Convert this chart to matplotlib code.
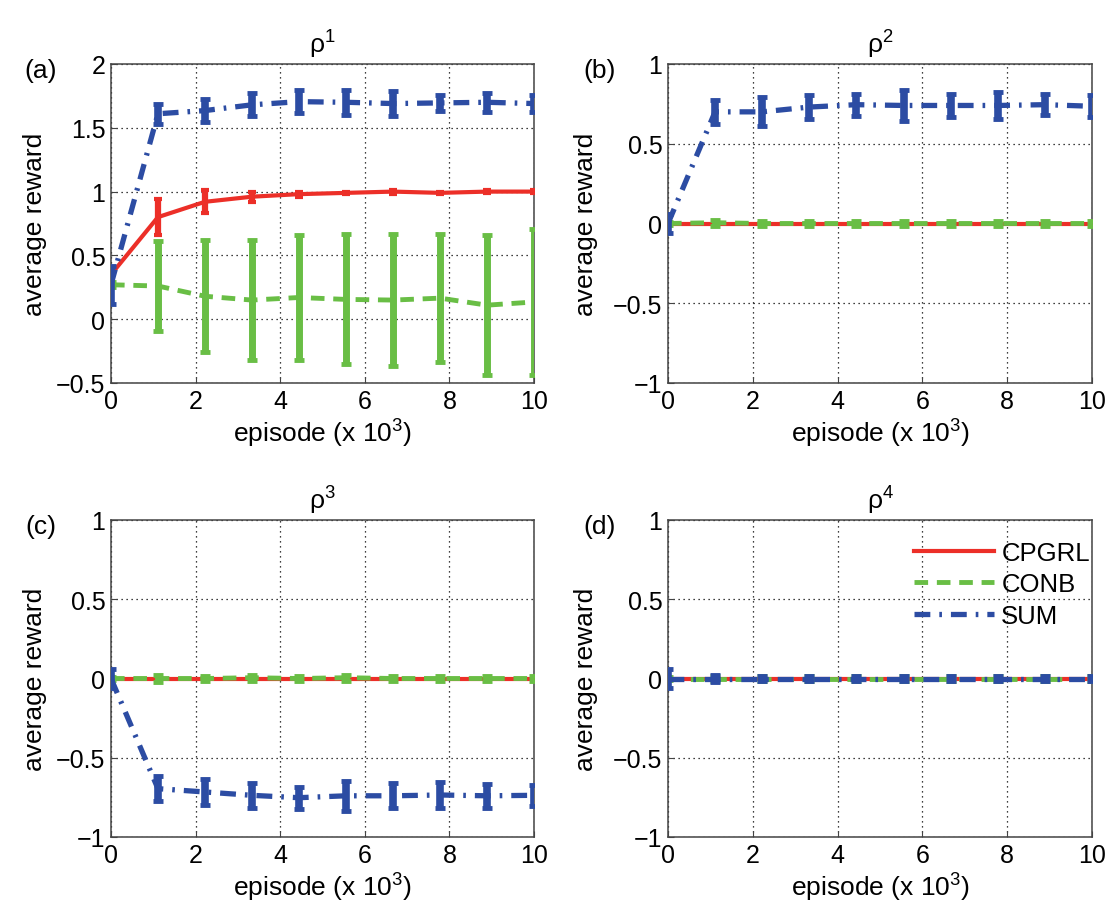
#!/usr/bin/env python3

import numpy as np
import matplotlib
matplotlib.use("Agg")
import matplotlib.pyplot as plt

plt.rcParams["font.family"] = ["Liberation Sans", "DejaVu Sans"]
plt.rcParams["mathtext.default"] = "regular"

# episode (x 10^3)
episodes = [0, 1.11, 2.22, 3.33, 4.44, 5.56, 6.67, 7.78, 8.89, 10]

# (a) rho^1
cpgrl_a = [0.35, 0.80, 0.92, 0.96, 0.98, 0.99, 1.00, 0.99, 1.00, 1.00]
cpgrl_a_err = [0.03, 0.14, 0.09, 0.04, 0.02, 0.01, 0.015, 0.01, 0.01, 0.01]
conb_a = [0.27, 0.26, 0.18, 0.15, 0.17, 0.155, 0.15, 0.165, 0.11, 0.135]
conb_a_err = [0.02, 0.35, 0.44, 0.47, 0.49, 0.51, 0.52, 0.50, 0.55, 0.575]
sum_a = [0.27, 1.61, 1.635, 1.68, 1.705, 1.70, 1.69, 1.695, 1.70, 1.69]
sum_a_err = [0.15, 0.08, 0.09, 0.09, 0.09, 0.10, 0.10, 0.065, 0.075, 0.07]

# (b) rho^2
cpgrl_b = [0, 0, 0, 0, 0, 0, 0, 0, 0, 0]
cpgrl_b_err = [0.01, 0.01, 0.01, 0.01, 0.01, 0.01, 0.01, 0.01, 0.01, 0.01]
conb_b = [0, 0.005, 0, 0, 0, 0, 0, 0, 0, 0]
conb_b_err = [0.01, 0.02, 0.015, 0.015, 0.015, 0.015, 0.015, 0.015, 0.015, 0.015]
sum_b = [0.0, 0.70, 0.70, 0.73, 0.745, 0.74, 0.74, 0.74, 0.745, 0.735]
sum_b_err = [0.06, 0.075, 0.09, 0.075, 0.07, 0.095, 0.075, 0.085, 0.065, 0.07]

# (c) rho^3
cpgrl_c = [0, 0, 0, 0, 0, 0, 0, 0, 0, 0]
cpgrl_c_err = [0.01, 0.01, 0.01, 0.01, 0.01, 0.01, 0.01, 0.01, 0.01, 0.01]
conb_c = [0, 0, 0, 0.005, 0, 0.005, 0, 0, 0, 0]
conb_c_err = [0.01, 0.02, 0.015, 0.02, 0.015, 0.02, 0.015, 0.015, 0.015, 0.015]
sum_c = [0.0, -0.695, -0.716, -0.737, -0.752, -0.74, -0.74, -0.735, -0.74, -0.737]
sum_c_err = [0.06, 0.08, 0.085, 0.08, 0.07, 0.095, 0.08, 0.085, 0.075, 0.065]

# (d) rho^4
cpgrl_d = [0, 0, 0, 0, 0, 0, 0, 0, 0, 0]
cpgrl_d_err = [0.01, 0.01, 0.01, 0.01, 0.01, 0.01, 0.01, 0.01, 0.01, 0.01]
conb_d = [0, 0, 0, 0, 0, 0, 0, 0, 0, 0]
conb_d_err = [0.01, 0.015, 0.015, 0.015, 0.015, 0.015, 0.015, 0.015, 0.015, 0.015]
sum_d = [0, 0, 0, 0, 0, 0, 0, 0, 0, 0]
sum_d_err = [0.06, 0.025, 0.015, 0.015, 0.015, 0.015, 0.015, 0.015, 0.015, 0.015]

RED = "#ec2f28"
GREEN = "#69be45"
BLUE = "#2c4ca3"

panels = [
    ("(a)", r"ρ$^{1}$", [-0.5, 2], [-0.5, 0, 0.5, 1, 1.5, 2],
     (cpgrl_a, cpgrl_a_err), (conb_a, conb_a_err), (sum_a, sum_a_err)),
    ("(b)", r"ρ$^{2}$", [-1, 1], [-1, -0.5, 0, 0.5, 1],
     (cpgrl_b, cpgrl_b_err), (conb_b, conb_b_err), (sum_b, sum_b_err)),
    ("(c)", r"ρ$^{3}$", [-1, 1], [-1, -0.5, 0, 0.5, 1],
     (cpgrl_c, cpgrl_c_err), (conb_c, conb_c_err), (sum_c, sum_c_err)),
    ("(d)", r"ρ$^{4}$", [-1, 1], [-1, -0.5, 0, 0.5, 1],
     (cpgrl_d, cpgrl_d_err), (conb_d, conb_d_err), (sum_d, sum_d_err)),
]

# axes boxes in pixels (left, top, right, bottom)
boxes = [(111, 65, 534, 384), (668, 65, 1092, 384),
         (111, 521, 534, 838), (668, 521, 1092, 838)]
tag_x = [41, 600, 41, 600]
ylab_x = [-0.151, -0.165, -0.151, -0.165]

W, H = 1110, 912
fig = plt.figure(figsize=(W / 100, H / 100), dpi=100)


def tick_fmt(v):
    if v == int(v):
        s = str(int(v))
    else:
        s = ("%g" % v)
    return s.replace("-", "\u2212")


for i, ((tag, title, ylim, yticks, red, green, blue), (l, t, r, b)) in enumerate(zip(panels, boxes)):
    ax = fig.add_axes([l / W, 1 - b / H, (r - l) / W, (b - t) / H])

    c1 = ax.errorbar(episodes, red[0], yerr=red[1], color=RED, lw=3.0,
                     elinewidth=4.5, capsize=3, capthick=3, label="CPGRL", zorder=3)
    c2 = ax.errorbar(episodes, green[0], yerr=green[1], color=GREEN, lw=3.5,
                     elinewidth=5, capsize=3.5, capthick=3.5, label="CONB", zorder=4)
    c2[0].set_dashes((2.8, 1.8))
    c3 = ax.errorbar(episodes, blue[0], yerr=blue[1], color=BLUE, lw=3.8,
                     elinewidth=5.5, capsize=3.5, capthick=3.5, label="SUM", zorder=5)
    c3[0].set_dashes((3.0, 1.7, 0.5, 1.7))

    ax.set_xlim(0, 10)
    ax.set_ylim(*ylim)
    ax.set_xticks([0, 2, 4, 6, 8, 10])
    ax.set_xticklabels([tick_fmt(v) for v in [0, 2, 4, 6, 8, 10]])
    ax.set_yticks(yticks)
    ax.set_yticklabels([tick_fmt(v) for v in yticks])
    ax.grid(True, color="black", linestyle=(0, (1, 3)), linewidth=0.9)
    ax.set_axisbelow(True)
    ax.tick_params(direction="in", length=4, labelsize=18, pad=4,
                   color="#444444")
    for sp in ax.spines.values():
        sp.set_color("#444444")
        sp.set_linewidth(1.1)

    ax.set_xlabel(r"episode (x 10$^{3}$)", fontsize=19, labelpad=3)
    ax.set_ylabel("average reward", fontsize=19)
    ax.yaxis.set_label_coords(ylab_x[i], 0.5)
    ax.set_title(title, fontsize=19, pad=8)

    fig.text(tag_x[i] / W, 1 - (t + 6) / H, tag, fontsize=19,
             ha="center", va="center")

    if tag == "(d)":
        ax.legend(handles=[c1[0], c2[0], c3[0]], labels=["CPGRL", "CONB", "SUM"],
                  loc="upper left", bbox_to_anchor=(0.58, 0.935),
                  frameon=False, fontsize=18.5, handlelength=3.1,
                  handletextpad=0.3, labelspacing=0.3, borderpad=0,
                  borderaxespad=0)

plt.savefig("out.png", dpi=100)
